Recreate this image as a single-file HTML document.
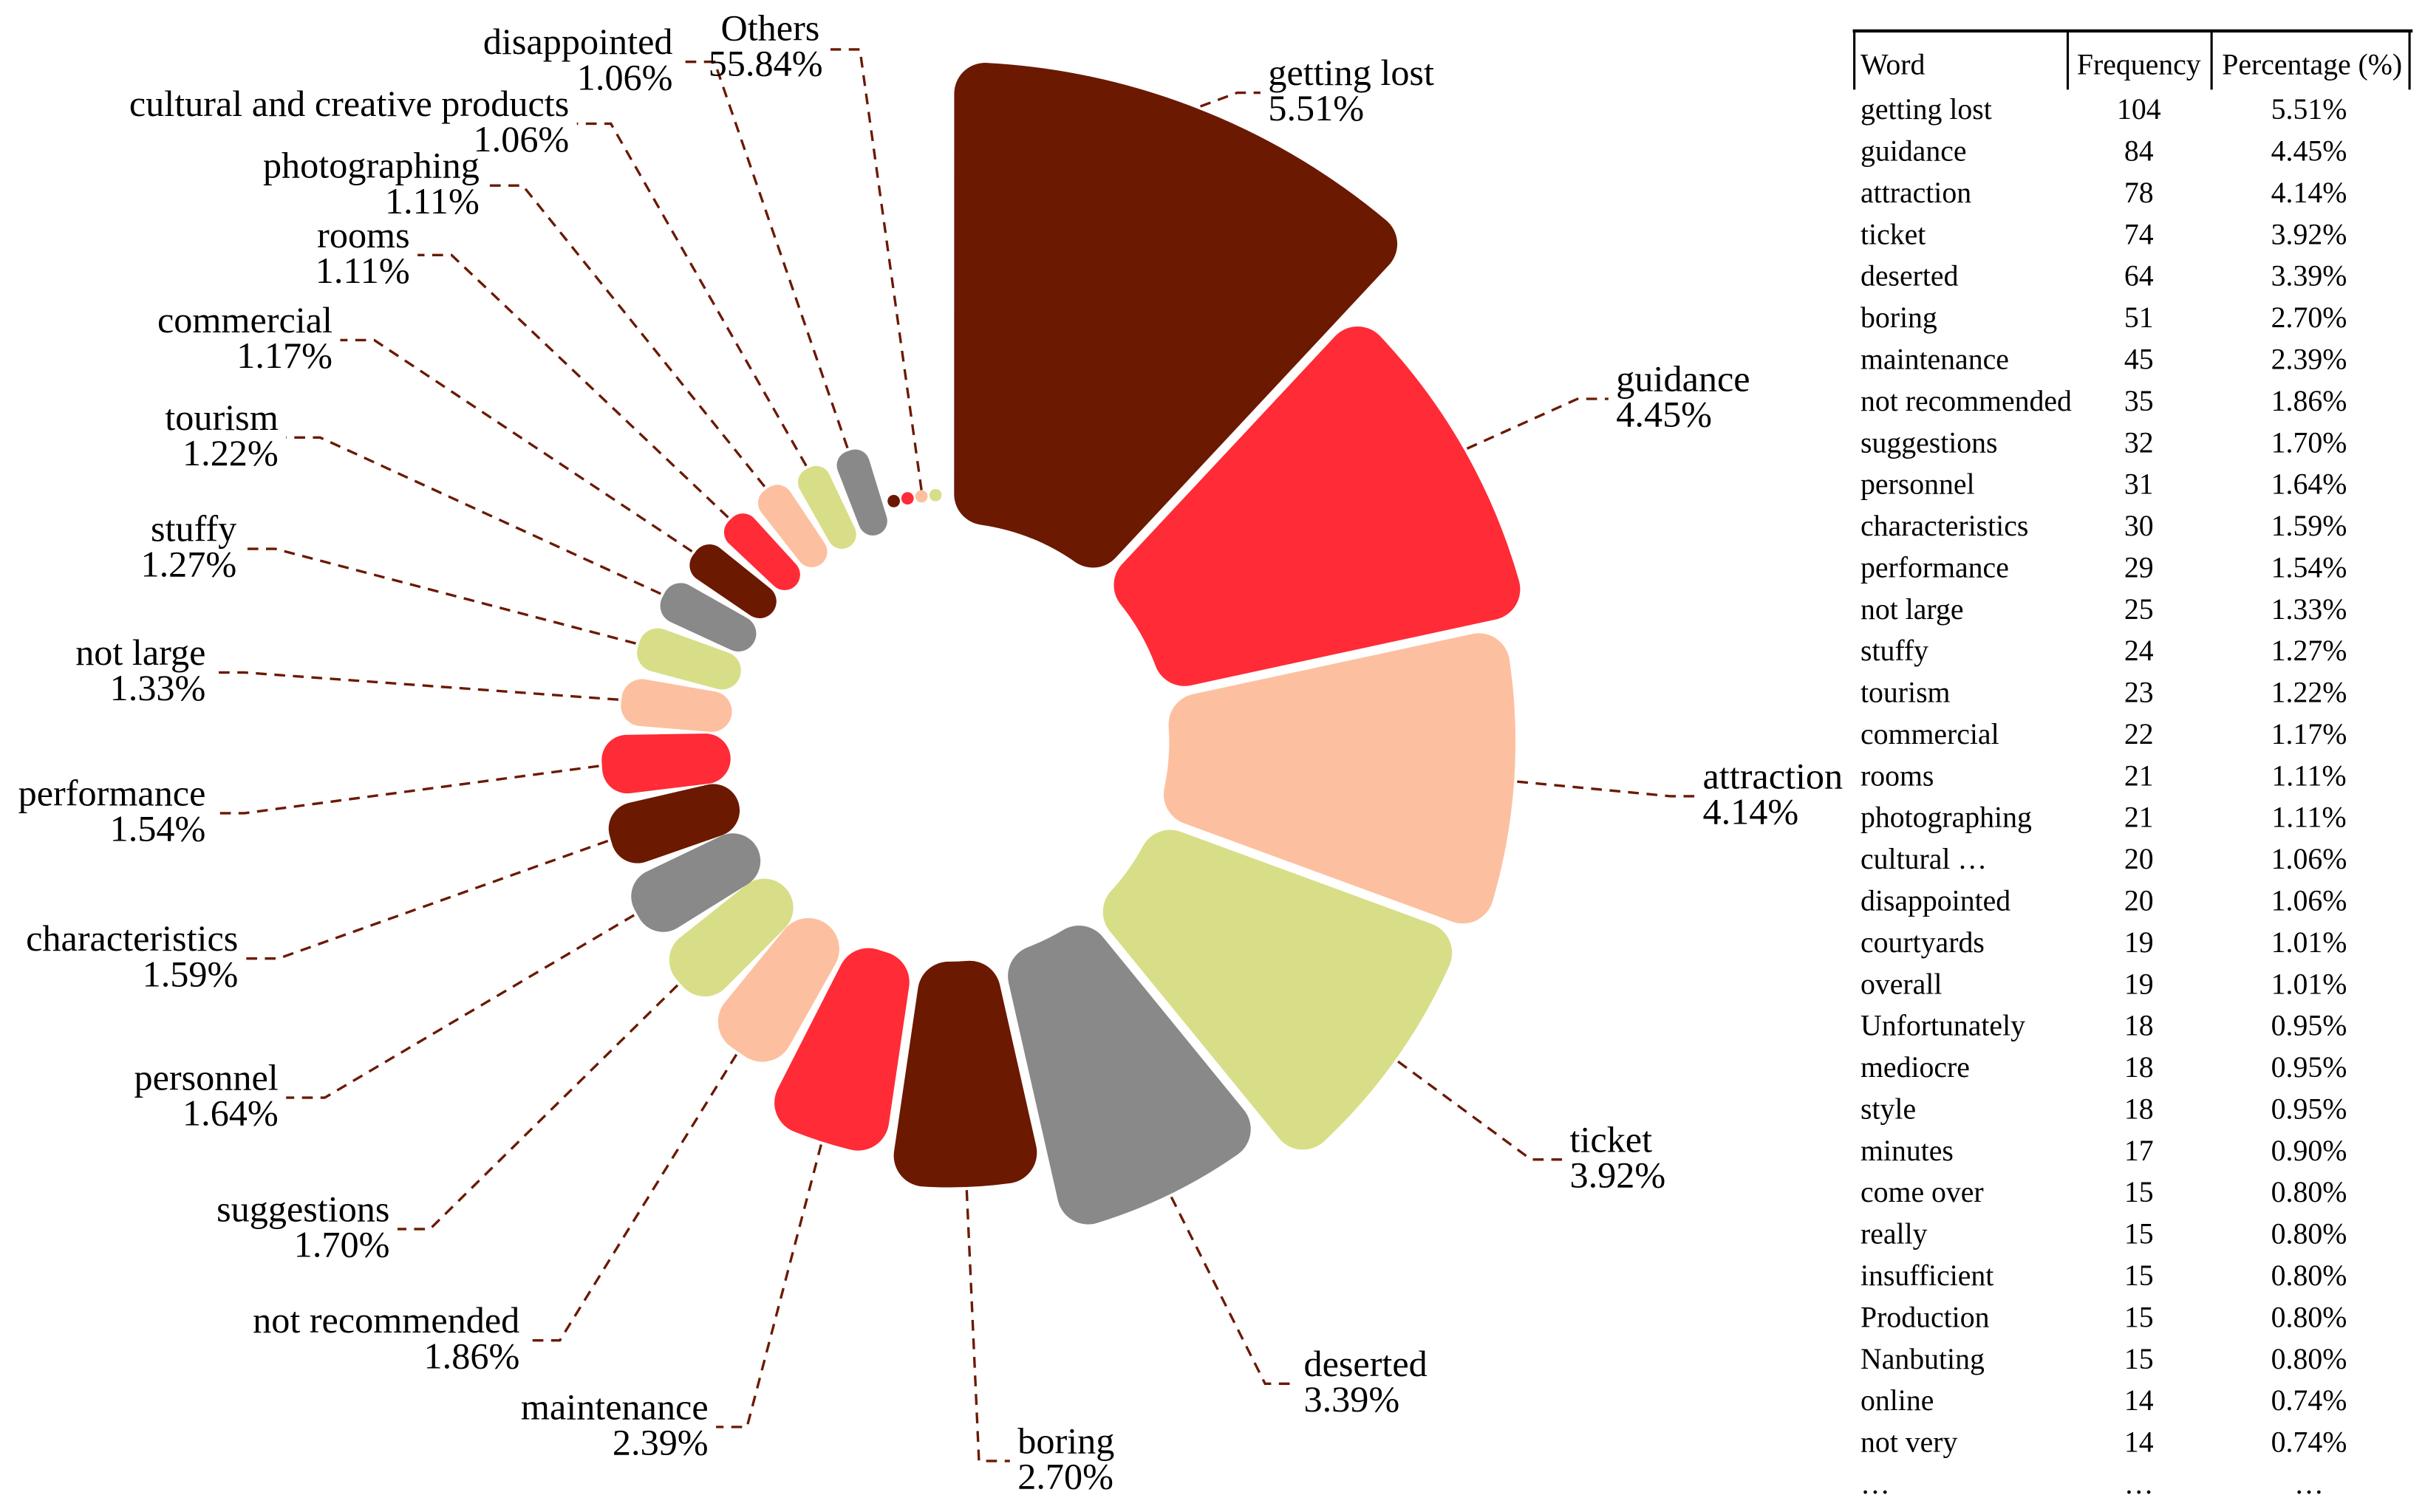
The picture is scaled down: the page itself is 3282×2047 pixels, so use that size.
<!DOCTYPE html>
<html><head><meta charset="utf-8"><style>
html,body{margin:0;padding:0;background:#fff;}
svg{display:block;}
text{font-family:"Liberation Serif",serif;fill:#000;}
</style></head><body>
<svg id="chart" xmlns="http://www.w3.org/2000/svg" width="3282" height="2047" viewBox="0 0 1568 978" preserveAspectRatio="none">
<g id="slices"></g>
<g id="leaders"></g>
<g id="labels"></g>
<g id="table">
<line x1="1198" y1="20" x2="1560" y2="20" stroke="#000" stroke-width="2"/>
<line x1="1199" y1="20" x2="1199" y2="58" stroke="#000" stroke-width="1.5"/>
<line x1="1337" y1="20" x2="1337" y2="58" stroke="#000" stroke-width="1.5"/>
<line x1="1430" y1="20" x2="1430" y2="58" stroke="#000" stroke-width="1.5"/>
<line x1="1558" y1="20" x2="1558" y2="58" stroke="#000" stroke-width="1.5"/>
<text x="1203" y="48" font-size="19">Word</text>
<text x="1383" y="48" font-size="19" text-anchor="middle">Frequency</text>
<text x="1495" y="48" font-size="19" text-anchor="middle">Percentage (%)</text>
<g id="rows"></g>
</g>
</svg>
<script>
const sliceNames = ["getting lost","guidance","attraction","ticket","deserted","boring","maintenance","not recommended","suggestions","personnel","characteristics","performance","not large","stuffy","tourism","commercial","rooms","photographing","cultural and creative products","disappointed"];
const sliceValues = [5.51,4.45,4.14,3.92,3.39,2.70,2.39,1.86,1.70,1.64,1.59,1.54,1.33,1.27,1.22,1.17,1.11,1.11,1.06,1.06];
const othersLabel = "Others";
const othersValue = 55.84;
const tableWords = ["getting lost","guidance","attraction","ticket","deserted","boring","maintenance","not recommended","suggestions","personnel","characteristics","performance","not large","stuffy","tourism","commercial","rooms","photographing","cultural …","disappointed","courtyards","overall","Unfortunately","mediocre","style","minutes","come over","really","insufficient","Production","Nanbuting","online","not very","…"];
const tableFreqs = ["104","84","78","74","64","51","45","35","32","31","30","29","25","24","23","22","21","21","20","20","19","19","18","18","18","17","15","15","15","15","15","14","14","…"];
const tablePcts = ["5.51%","4.45%","4.14%","3.92%","3.39%","2.70%","2.39%","1.86%","1.70%","1.64%","1.59%","1.54%","1.33%","1.27%","1.22%","1.17%","1.11%","1.11%","1.06%","1.06%","1.01%","1.01%","0.95%","0.95%","0.95%","0.90%","0.80%","0.80%","0.80%","0.80%","0.80%","0.74%","0.74%","…"];

// layout (not data): label elbow / text anchor positions
const labelLayout = [
 [800,60,820,'r'],[1020,258,1045,'r'],[1080,515,1101,'r'],[990,750,1015,'r'],[818,895,843,'r'],[633,945,658,'r'],
 [483,923,458,'l'],[362,867,336,'l'],[278,795,252,'l'],[210,710,180,'l'],[180,620,154,'l'],[158,526,133,'l'],
 [158,435,133,'l'],[178,355,153,'l'],[207,283,180,'l'],[242,220,215,'l'],[292,165,265,'l'],[338,120,310,'l'],
 [395,80,368,'l'],[462,40,435,'l']];
const othersLayout = [556,32,532];

const NS="http://www.w3.org/2000/svg";
const colors=["#6b1900","#ff2b36","#fcc0a0","#d8de87","#898989"];
const cx=614, cy=480, r0=142, rMax=440, sweep=345, gap=3;
const maxV=Math.max(...sliceValues);
const total=sliceValues.reduce((a,b)=>a+b,0);
const rad=d=>d*Math.PI/180;
const pt=(r,a)=>[cx+r*Math.sin(rad(a)), cy-r*Math.cos(rad(a))];
const angleScale=v=>v/total*sweep;
const radiusScale=v=>r0+(rMax-r0)*v/maxV;
const gS=document.getElementById('slices'), gL=document.getElementById('leaders'), gT=document.getElementById('labels');

function mk(tag,attrs,parent){const e=document.createElementNS(NS,tag);for(const k in attrs)e.setAttribute(k,attrs[k]);parent.appendChild(e);return e;}

let acc=0;
sliceValues.forEach((v,i)=>{
  const a0=acc, a1=acc+angleScale(v); acc=a1;
  const R=radiusScale(v);
  const rmid=(r0+R)/2;
  const arcW=rad(a1-a0)*rmid;
  const k=Math.max(3,Math.min(20,(arcW-2*gap)/2, (R-r0)/2));
  const ri=r0+k, ro=Math.max(ri,R-k);
  function ang(r){let s=a0+(k+gap)/r*180/Math.PI, e=a1-(k+gap)/r*180/Math.PI; if(s>e){const m=(a0+a1)/2;s=m;e=m;} return [s,e];}
  const [si,ei]=ang(ri),[so,eo]=ang(ro);
  const p1=pt(ri,si),p2=pt(ro,so),p3=pt(ro,eo),p4=pt(ri,ei);
  const d=`M${p1[0]},${p1[1]}L${p2[0]},${p2[1]}A${ro},${ro} 0 0 1 ${p3[0]},${p3[1]}L${p4[0]},${p4[1]}A${ri},${ri} 0 0 0 ${p1[0]},${p1[1]}Z`;
  const c=colors[i%5];
  const p=mk('path',{d:d,fill:c,stroke:c,'stroke-width':2*k,'stroke-linejoin':'round'},gS);
  
  
  const L=labelLayout[i];
  const s=pt(R+2,(a0+a1)/2);
  const hx=L[3]==='r'?L[2]-5:L[2]+5;
  const ln=mk('polyline',{points:`${s[0]},${s[1]} ${L[0]},${L[1]} ${hx},${L[1]}`,fill:'none',stroke:'#6b1900','stroke-width':1.6,'stroke-dasharray':'7,5'},gL);
  
  
  const anchor=L[3]==='r'?'start':'end';
  const t=mk('text',{x:L[2],y:L[1]-5,'font-size':24,'text-anchor':anchor},gT);
  t.textContent=sliceNames[i];
  
  
  const t2=mk('text',{x:L[2],y:L[1]+18,'font-size':24,'text-anchor':anchor},gT);
  t2.textContent=v.toFixed(2)+'%';
  
  
});
const remain=360-sweep, nd=4;
let dotPts=[];
for(let j=0;j<nd;j++){
  const a=sweep+remain*(j+0.6)/(nd+0.6);
  const q=pt(160,a); dotPts.push(q);
  const c=mk('circle',{cx:q[0],cy:q[1],r:4,fill:colors[j%5]},gS);
  
  
}
{
  const q=dotPts[2];
  const ln=mk('polyline',{points:`${q[0]},${q[1]-4} ${othersLayout[0]},${othersLayout[1]} ${othersLayout[2]+5},${othersLayout[1]}`,fill:'none',stroke:'#6b1900','stroke-width':1.6,'stroke-dasharray':'7,5'},gL);
  
  
  const t=mk('text',{x:othersLayout[2]-2,y:othersLayout[1]-6,'font-size':24,'text-anchor':'end'},gT);
  t.textContent=othersLabel;
  
  
  const t2=mk('text',{x:othersLayout[2],y:othersLayout[1]+17,'font-size':24,'text-anchor':'end'},gT);
  t2.textContent=othersValue.toFixed(2)+'%';
  
  
}
const gR=document.getElementById('rows');
tableWords.forEach((w,i)=>{
  const y=77+i*26.94;
  const a=mk('text',{x:1203,y:y,'font-size':19},gR); a.textContent=w;
  
  
  const b=mk('text',{x:1383,y:y,'font-size':19,'text-anchor':'middle'},gR); b.textContent=tableFreqs[i];
  
  
  const c=mk('text',{x:1493,y:y,'font-size':19,'text-anchor':'middle'},gR); c.textContent=tablePcts[i];
  
  
});
</script>
</body></html>
